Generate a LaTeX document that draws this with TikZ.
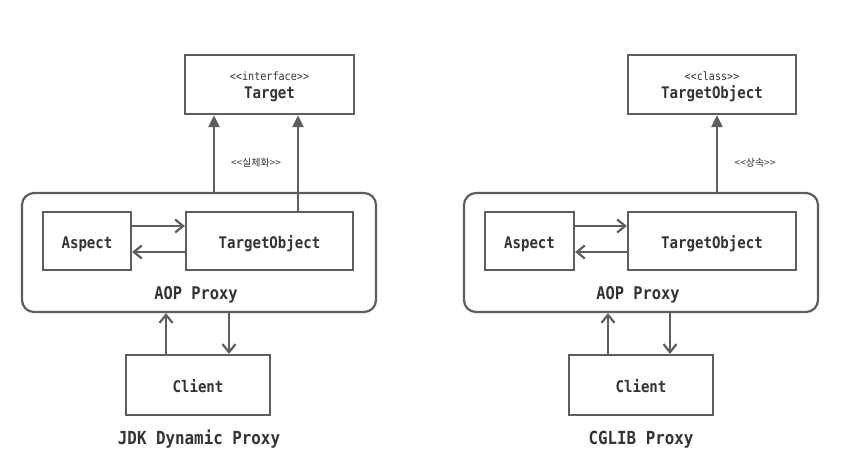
\documentclass[tikz,border=0pt]{standalone}
\usepackage{fontspec}
\setmonofont[FakeStretch=0.88]{DejaVu Sans Mono}
\newfontfamily\kofont{Noto Sans CJK KR}
\usetikzlibrary{arrows.meta}
\definecolor{linegray}{HTML}{5E5E5E}
\definecolor{textgray}{HTML}{333333}
\tikzset{
    box/.style={draw=linegray, line width=2.2pt, inner sep=0pt, text=textgray,
        font=\ttfamily\bfseries\fontsize{16}{18}\selectfont, align=center,
        text height=14pt, text depth=0pt},
    proxybox/.style={box, rounded corners=12pt},
    realize/.style={draw=linegray, line width=2.2pt, -{Triangle[length=12pt,width=11pt]}},
    call/.style={draw=linegray, line width=2.2pt, -{Straight Barb[length=8pt,width=13pt]}},
    smalltext/.style={text=textgray, font=\ttfamily\fontsize{11.5}{13}\selectfont},
    kotext/.style={text=textgray, font=\kofont\fontsize{10}{11}\selectfont},
    caption/.style={text=textgray, anchor=base, font=\ttfamily\bfseries\fontsize{18}{20}\selectfont}
}
\begin{document}
\begin{tikzpicture}[x=1pt, y=-1pt]
        \useasboundingbox[fill=white] (0,0) rectangle (843,451);

        % JDK dynamic proxy
        \node[box, minimum width=169pt, minimum height=59pt] (targetL) at (269.5, 84.5) {};
        \node[smalltext] (ifaceL) at (269.5, 76) {<<interface>>};
        \node[box, draw=none] (targetNameL) at (269.5, 91) {Target};
        \node[proxybox, minimum width=354pt, minimum height=119pt] (proxyL) at (199, 252.5) {};
        \node[box, minimum width=88pt, minimum height=58pt] (aspectL) at (87, 241) {Aspect};
        \node[box, minimum width=167pt, minimum height=58pt] (tobjL) at (269.5, 241) {TargetObject};
        \node[box, draw=none] (proxyNameL) at (196, 292) {\fontsize{17.5}{19}\selectfont AOP Proxy};
        \node[box, minimum width=144pt, minimum height=60pt] (clientL) at (198, 385) {Client};
        \node[kotext] (realL) at (256, 163) {<<실체화>>};
        \node[caption] (capL) at (199, 444) {JDK Dynamic Proxy};

        \coordinate (r1) at (214, 0);
        \coordinate (r2) at (298, 0);
        \coordinate (c1) at (166, 0);
        \coordinate (c2) at (229, 0);
        \coordinate (a1) at (0, 226);
        \coordinate (a2) at (0, 252);

        \draw[realize] (proxyL.north -| r1) -- (targetL.south -| r1);
        \draw[realize] (tobjL.north -| r2) -- (targetL.south -| r2);
        \draw[call] (aspectL.east |- a1) -- (tobjL.west |- a1);
        \draw[call] (tobjL.west |- a2) -- (aspectL.east |- a2);
        \draw[call] (clientL.north -| c1) -- (proxyL.south -| c1);
        \draw[call] (proxyL.south -| c2) -- (clientL.north -| c2);

        % CGLIB proxy
        \node[box, minimum width=168pt, minimum height=59pt] (targetR) at (712, 84.5) {};
        \node[smalltext] (classR) at (712, 76) {<<class>>};
        \node[box, draw=none] (targetNameR) at (712, 91) {TargetObject};
        \node[proxybox, minimum width=354pt, minimum height=119pt] (proxyR) at (641, 252.5) {};
        \node[box, minimum width=89pt, minimum height=58pt] (aspectR) at (529.5, 241) {Aspect};
        \node[box, minimum width=168pt, minimum height=58pt] (tobjR) at (712, 241) {TargetObject};
        \node[box, draw=none] (proxyNameR) at (638, 292) {\fontsize{17.5}{19}\selectfont AOP Proxy};
        \node[box, minimum width=144pt, minimum height=60pt] (clientR) at (641, 385) {Client};
        \node[kotext] (inheritR) at (755, 163) {<<상속>>};
        \node[caption] (capR) at (641, 444) {CGLIB Proxy};

        \coordinate (r3) at (717, 0);
        \coordinate (c3) at (608, 0);
        \coordinate (c4) at (670, 0);

        \draw[realize] (proxyR.north -| r3) -- (targetR.south -| r3);
        \draw[call] (aspectR.east |- a1) -- (tobjR.west |- a1);
        \draw[call] (tobjR.west |- a2) -- (aspectR.east |- a2);
        \draw[call] (clientR.north -| c3) -- (proxyR.south -| c3);
        \draw[call] (proxyR.south -| c4) -- (clientR.north -| c4);
    \end{tikzpicture}
\end{document}
